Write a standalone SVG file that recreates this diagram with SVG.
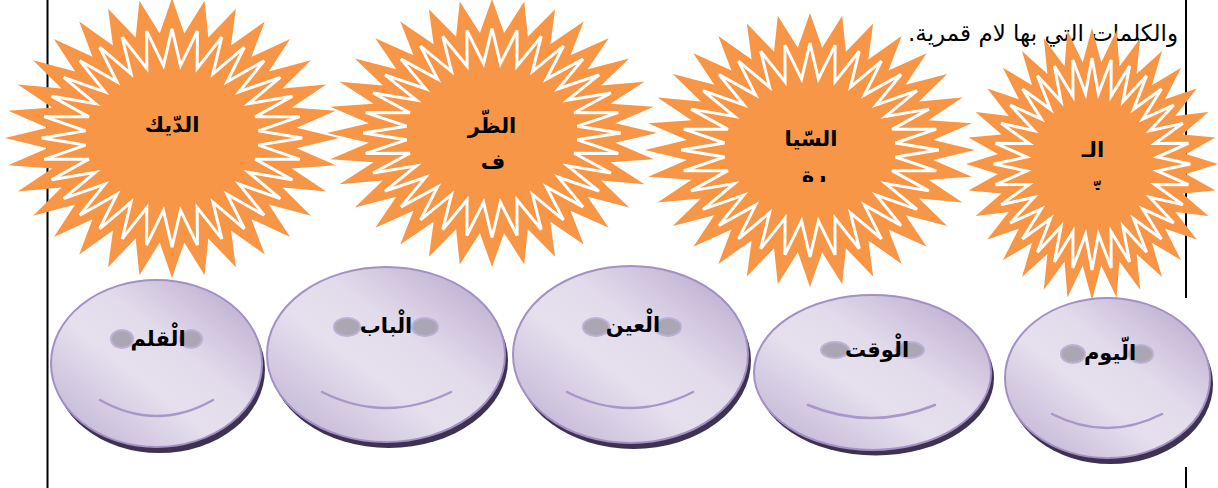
<svg xmlns="http://www.w3.org/2000/svg" xmlns:xlink="http://www.w3.org/1999/xlink" width="1218" height="488" viewBox="0 0 1218 488">
  <style>
    .rule { stroke: #000; stroke-width: 2; }
    .sun-out { fill: #F79646; }
    .sun-in { fill: #F79646; stroke: #FFFFFF; stroke-width: 3; vector-effect: non-scaling-stroke; }
    .lbl { font-family: "DejaVu Sans", "Noto Sans", sans-serif; font-weight: bold; font-size: 21px; fill: #000; text-anchor: middle; }
    .head { font-family: "DejaVu Sans", "Noto Sans", sans-serif; font-size: 23px; fill: #000; }
    .face { fill: url(#faceGrad); stroke: #A391C3; stroke-width: 2; }
    .shade { fill: #3F3151; }
    .eye { fill: #ABA6B4; stroke: #BDB0D4; stroke-width: 2; }
    .smile { fill: none; stroke: #A897C7; stroke-width: 2.5; stroke-linecap: round; }
  </style>
  <defs>
    <!-- 32-point star, unit radius 100 (valleys at 75) -->
    <polygon id="starOuter" class="sun-out" points="100,0 74.64,7.35 98.08,19.51 71.77,21.77 92.39,38.27 66.14,35.36 83.15,55.56 57.98,47.58 70.71,70.71 47.58,57.98 55.56,83.15 35.36,66.14 38.27,92.39 21.77,71.77 19.51,98.08 7.35,74.64 0,100 -7.35,74.64 -19.51,98.08 -21.77,71.77 -38.27,92.39 -35.36,66.14 -55.56,83.15 -47.58,57.98 -70.71,70.71 -57.98,47.58 -83.15,55.56 -66.14,35.36 -92.39,38.27 -71.77,21.77 -98.08,19.51 -74.64,7.35 -100,0 -74.64,-7.35 -98.08,-19.51 -71.77,-21.77 -92.39,-38.27 -66.14,-35.36 -83.15,-55.56 -57.98,-47.58 -70.71,-70.71 -47.58,-57.98 -55.56,-83.15 -35.36,-66.14 -38.27,-92.39 -21.77,-71.77 -19.51,-98.08 -7.35,-74.64 0,-100 7.35,-74.64 19.51,-98.08 21.77,-71.77 38.27,-92.39 35.36,-66.14 55.56,-83.15 47.58,-57.98 70.71,-70.71 57.98,-47.58 83.15,-55.56 66.14,-35.36 92.39,-38.27 71.77,-21.77 98.08,-19.51 74.64,-7.35"/>
    <!-- inner star carrying the white outline (tips 78, valleys 52) -->
    <polygon id="starInner" class="sun-in" points="78,0 51.75,5.10 76.50,15.22 49.76,15.09 72.06,29.85 45.86,24.51 64.85,43.33 40.20,32.99 55.15,55.15 32.99,40.20 43.33,64.85 24.51,45.86 29.85,72.06 15.09,49.76 15.22,76.50 5.10,51.75 0,78 -5.10,51.75 -15.22,76.50 -15.09,49.76 -29.85,72.06 -24.51,45.86 -43.33,64.85 -32.99,40.20 -55.15,55.15 -40.20,32.99 -64.85,43.33 -45.86,24.51 -72.06,29.85 -49.76,15.09 -76.50,15.22 -51.75,5.10 -78,0 -51.75,-5.10 -76.50,-15.22 -49.76,-15.09 -72.06,-29.85 -45.86,-24.51 -64.85,-43.33 -40.20,-32.99 -55.15,-55.15 -32.99,-40.20 -43.33,-64.85 -24.51,-45.86 -29.85,-72.06 -15.09,-49.76 -15.22,-76.50 -5.10,-51.75 0,-78 5.10,-51.75 15.22,-76.50 15.09,-49.76 29.85,-72.06 24.51,-45.86 43.33,-64.85 32.99,-40.20 55.15,-55.15 40.20,-32.99 64.85,-43.33 45.86,-24.51 72.06,-29.85 49.76,-15.09 76.50,-15.22 51.75,-5.10"/>
    <linearGradient id="faceGrad" x1="0" y1="1" x2="1" y2="0">
      <stop offset="0" stop-color="#BBADD1"/>
      <stop offset="0.42" stop-color="#E6E0EE"/>
      <stop offset="0.6" stop-color="#E2DBEB"/>
      <stop offset="1" stop-color="#B3A2CA"/>
    </linearGradient>
    <clipPath id="clip2"><rect x="440" y="140" width="110" height="30"/></clipPath>
    <clipPath id="clip3"><rect x="760" y="150" width="110" height="32"/></clipPath>
    <clipPath id="clip4"><rect x="1050" y="162" width="90" height="28"/></clipPath>
  </defs>

  <!-- page margins -->
  <g id="page-rules">
    <line class="rule" x1="47.5" y1="0" x2="47.5" y2="488"/>
    <line class="rule" x1="1186" y1="0" x2="1186" y2="298"/>
    <line class="rule" x1="1186" y1="467" x2="1186" y2="488"/>
  </g>

  <!-- heading line -->
  <g id="heading">
    <text class="head" x="1178" y="41" direction="rtl" text-anchor="start">والكلمات التي بها لام قمرية.</text>
  </g>

  <!-- sun-letter stars -->
  <g id="sun-1">
    <use xlink:href="#starOuter" transform="translate(172,138) scale(1.67,1.40)"/>
    <use xlink:href="#starInner" transform="translate(172,138) scale(1.67,1.40)"/>
    <text class="lbl" x="172" y="132">الدّيك</text>
  </g>
  <g id="sun-2">
    <use xlink:href="#starOuter" transform="translate(492,133) scale(1.65,1.34)"/>
    <use xlink:href="#starInner" transform="translate(492,133) scale(1.65,1.34)"/>
    <text class="lbl" x="492" y="133">الظّر</text>
    <text class="lbl" x="493" y="169" clip-path="url(#clip2)">ف</text>
  </g>
  <g id="sun-3">
    <use xlink:href="#starOuter" transform="translate(810,150) scale(1.65,1.37)"/>
    <use xlink:href="#starInner" transform="translate(810,150) scale(1.65,1.37)"/>
    <text class="lbl" x="811" y="146">السّيا</text>
    <text class="lbl" x="814" y="182" clip-path="url(#clip3)">رة</text>
  </g>
  <g id="sun-4">
    <use xlink:href="#starOuter" transform="translate(1092,164) scale(1.26,1.36)"/>
    <use xlink:href="#starInner" transform="translate(1092,164) scale(1.26,1.36)"/>
    <text class="lbl" x="1093" y="157">الـ</text>
    <text class="lbl" x="1095" y="194" clip-path="url(#clip4)">رّ</text>
  </g>

  <!-- moon-letter faces -->
  <g id="face-1">
    <ellipse class="shade" cx="159.5" cy="369.5" rx="105.5" ry="83.5"/>
    <ellipse class="face" cx="156.5" cy="363.5" rx="105.5" ry="83.5"/>
    <ellipse class="eye" cx="122" cy="339" rx="11" ry="9"/>
    <ellipse class="eye" cx="191" cy="339" rx="11" ry="9"/>
    <path class="smile" d="M100,400 Q157,432 213,400"/>
    <text class="lbl" x="158" y="346">الْقلم</text>
  </g>
  <g id="face-2">
    <ellipse class="shade" cx="389" cy="360.5" rx="119" ry="87.5"/>
    <ellipse class="face" cx="386" cy="354.5" rx="119" ry="87.5"/>
    <ellipse class="eye" cx="347" cy="327" rx="13" ry="9"/>
    <ellipse class="eye" cx="425" cy="327" rx="13" ry="9"/>
    <path class="smile" d="M322,392 Q386,424 451,392"/>
    <text class="lbl" x="386" y="333">الْباب</text>
  </g>
  <g id="face-3">
    <ellipse class="shade" cx="633.5" cy="360.5" rx="117.5" ry="88.5"/>
    <ellipse class="face" cx="630.5" cy="354.5" rx="117.5" ry="88.5"/>
    <ellipse class="eye" cx="596" cy="327" rx="13" ry="9"/>
    <ellipse class="eye" cx="668" cy="327" rx="13" ry="9"/>
    <path class="smile" d="M567,392 Q630,424 693,392"/>
    <text class="lbl" x="633" y="332">الْعين</text>
  </g>
  <g id="face-4">
    <ellipse class="shade" cx="875.5" cy="378" rx="118.5" ry="77.5"/>
    <ellipse class="face" cx="872.5" cy="372.5" rx="118.5" ry="77.5"/>
    <ellipse class="eye" cx="835" cy="350" rx="14" ry="8"/>
    <ellipse class="eye" cx="910" cy="350" rx="14" ry="8"/>
    <path class="smile" d="M808,405 Q871,431 935,405"/>
    <text class="lbl" x="877" y="357">الْوقت</text>
  </g>
  <g id="face-5">
    <ellipse class="shade" cx="1110.5" cy="384" rx="102.5" ry="80"/>
    <ellipse class="face" cx="1107.5" cy="378" rx="102.5" ry="80"/>
    <ellipse class="eye" cx="1073" cy="354" rx="12" ry="9"/>
    <ellipse class="eye" cx="1141" cy="354" rx="12" ry="9"/>
    <path class="smile" d="M1052,414 Q1107,442 1162,414"/>
    <text class="lbl" x="1110" y="360">الّيوم</text>
  </g>

  <g id="connectors"/>
</svg>
